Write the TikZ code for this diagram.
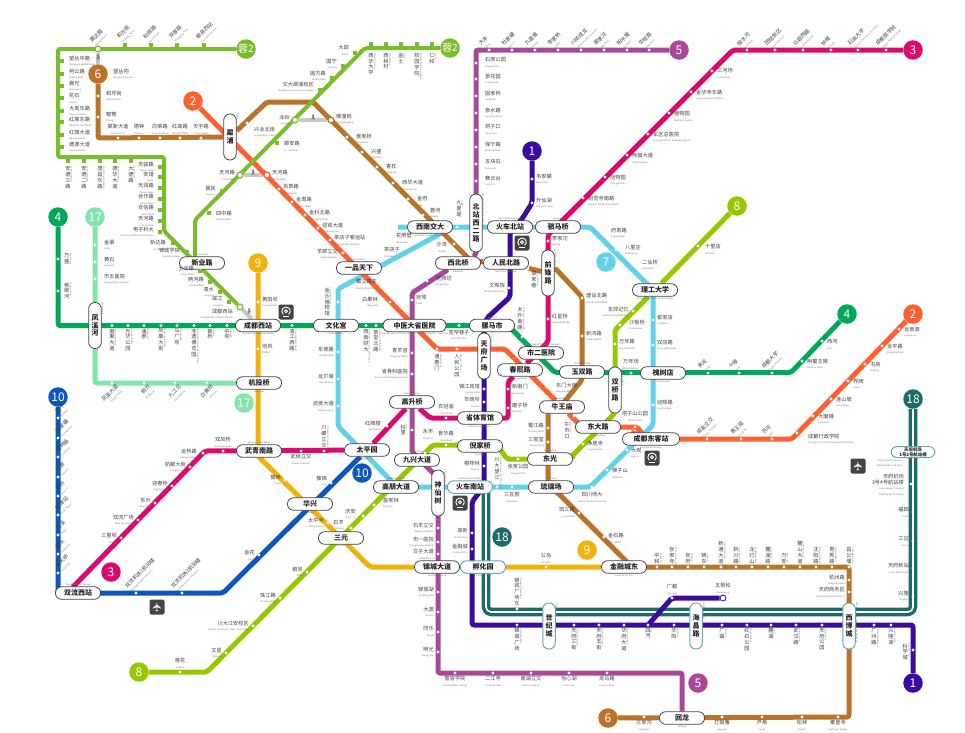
\documentclass[tikz,border=0pt]{standalone}
\usepackage{fontspec}
\setmainfont{Noto Sans CJK SC}
\newfontfamily\symfont{DejaVu Sans}
\newfontfamily\walkfont{Noto Emoji}
\usetikzlibrary{positioning}
\pgfdeclarelayer{lines}
\pgfsetlayers{lines,main}
\definecolor{cA}{HTML}{3B0A9E}
\definecolor{cB}{HTML}{FF6030}
\definecolor{cC}{HTML}{DC0A6E}
\definecolor{cD}{HTML}{00A85A}
\definecolor{cE}{HTML}{A94799}
\definecolor{cF}{HTML}{BA7328}
\definecolor{cG}{HTML}{62D2E8}
\definecolor{cH}{HTML}{96C800}
\definecolor{cI}{HTML}{F2B10B}
\definecolor{cJ}{HTML}{0D55BF}
\definecolor{cQ}{HTML}{82E6AC}
\definecolor{cR}{HTML}{1B6B6B}
\definecolor{cRong}{HTML}{78BD2B}
\definecolor{pillrim}{HTML}{444444}
\definecolor{tealrim}{HTML}{6BA8A8}
\definecolor{iconbg}{HTML}{444444}
\definecolor{engray}{HTML}{777777}
\definecolor{walkbar}{HTML}{C8C8C8}
\newcommand{\zhf}{\fontsize{5.2}{5.8}\selectfont}
\newcommand{\enf}{\fontsize{2.3}{2.9}\selectfont\color{engray}}
\newcommand{\pilf}{\fontsize{7}{8}\selectfont\bfseries}
\makeatletter
\newcommand{\vchars}[1]{\vbox{\baselineskip=1.12em\lineskiplimit=-1em\@tfor\vch:=#1\do{\hbox to 1em{\hss\vch\hss}}}}
\makeatother
\newcounter{stopno}
\newcommand{\lab}[4]{\node[tag,#2] (#1t) at (#1) {\zhf #3\\\enf #4};}
\newcommand{\lav}[4]{\node[vtag,#2] (#1t) at (#1) {\vchars{#3}};\node[entag] (#1e) at (#1t.north east) {#4};}
\newcommand{\sth}[5][stn]{\stepcounter{stopno}\node[#1] (s\arabic{stopno}) at (#2) {};\lab{s\arabic{stopno}}{#3}{#4}{#5}}
\newcommand{\stv}[5][stn]{\stepcounter{stopno}\node[#1] (s\arabic{stopno}) at (#2) {};\lav{s\arabic{stopno}}{#3}{#4}{#5}}
\newcommand{\pih}[6][pill]{\node[#1] (#2) at (#3) {#4};\node[ensub,#6=0.4pt of #2] (#2e) {#5};}
\newcommand{\piv}[5][pillv]{\node[#1] (#2) at (#3) {\vchars{#4}};\node[entag] (#2e) at (#2.north east) {#5};}
\tikzset{
  ln/.style={line width=5pt,rounded corners=2pt,line join=round},
  rong/.style={line width=4pt,rounded corners=2pt,line join=round,draw=cRong},
  walkway/.style={line width=4pt,draw=walkbar},
  stn/.style={circle,fill=white,inner sep=0pt,minimum size=3.4pt},
  tickstn/.style={rectangle,fill=cRong,inner sep=0pt,minimum size=3.6pt},
  ringstn/.style={circle,fill=white,draw=cRong,line width=1.2pt,inner sep=0pt,minimum size=6pt},
  tag/.style={inner sep=0pt,text=black!75,font=\zhf},
  vtag/.style={inner sep=0pt,text=black!75,font=\zhf},
  entag/.style={inner sep=0pt,rotate=-90,anchor=south west,yshift=-0.5pt,font=\enf},
  ensub/.style={inner sep=0pt,font=\enf},
  toR/.style={anchor=west,xshift=4pt,align=left},
  toL/.style={anchor=east,xshift=-4pt,align=right},
  toU/.style={anchor=south,yshift=3pt,align=center},
  toD/.style={anchor=north,yshift=-3pt,align=center},
  toSE/.style={anchor=west,xshift=5pt,yshift=-3pt,align=left},
  up45/.style={rotate=45,anchor=south west,align=left,yshift=2pt},
  dn45/.style={rotate=45,anchor=north east,align=right,yshift=-3pt},
  pill/.style={rectangle,rounded corners=6pt,draw=pillrim,line width=0.8pt,fill=white,inner sep=0pt,minimum width=45pt,minimum height=12.5pt,font=\pilf,text=black!85},
  pillT/.style={pill,draw=tealrim,line width=1pt},
  pillv/.style={rectangle,rounded corners=6pt,draw=pillrim,line width=0.8pt,fill=white,inner sep=0pt,minimum width=12.5pt,minimum height=46pt,font=\pilf,text=black!85},
  pillvT/.style={pillv,draw=tealrim,line width=1pt},
  badge/.style={circle,inner sep=0pt,minimum size=19.5pt,text=white,font=\fontsize{12}{12}\selectfont},
  iconbox/.style={rectangle,rounded corners=2pt,fill=iconbg,inner sep=0pt,minimum size=15pt,text=white},
  planebox/.style={iconbox,rotate=90,font=\symfont\fontsize{12}{12}\selectfont},
  walker/.style={inner sep=0pt,text=black!60,font=\walkfont\fontsize{5.5}{6}\selectfont},
  trainmark/.pic={
    \draw[white,line width=0.9pt] (0,-0.8) ++(130:4.2) arc[start angle=130,end angle=410,radius=4.2];
    \draw[white,line width=0.8pt] (0,-0.8) circle[radius=1.5];
    \draw[white,line width=0.8pt] (-2.8,4.6) -- (2.8,4.6);
  }
}
\begin{document}
\begin{tikzpicture}[x=1pt,y=-1pt]
  \useasboundingbox (0,0) rectangle (965,732);
  % badges
  \node[badge,fill=cA] (LAa) at (532,151) {1};
  \node[badge,fill=cA] (LAb) at (913,683) {1};
  \node[badge,fill=cB] (LBa) at (193,101) {2};
  \node[badge,fill=cB] (LBb) at (913,314) {2};
  \node[badge,fill=cC] (LCa) at (913,50) {3};
  \node[badge,fill=cC] (LCb) at (111,572) {3};
  \node[badge,fill=cD] (LDa) at (58,217) {4};
  \node[badge,fill=cD] (LDb) at (847,314) {4};
  \node[badge,fill=cE] (LEa) at (679,50) {5};
  \node[badge,fill=cE] (LEb) at (698,683) {5};
  \node[badge,fill=cF] (LFa) at (98,74) {6};
  \node[badge,fill=cF] (LFb) at (608,718) {6};
  \node[badge,fill=cG] (LGa) at (606,262) {7};
  \node[badge,fill=cH] (LHa) at (737,206) {8};
  \node[badge,fill=cH] (LHb) at (139,672) {8};
  \node[badge,fill=cI] (LIa) at (258,263) {9};
  \node[badge,fill=cI] (LIb) at (587,550) {9};
  \node[badge,fill=cJ] (LJa) at (58,397) {10};
  \node[badge,fill=cJ] (LJb) at (362,473) {10};
  \node[badge,fill=cQ] (LQa) at (95,217) {17};
  \node[badge,fill=cQ] (LQb) at (244,403) {17};
  \node[badge,fill=cR] (LRa) at (913,399) {18};
  \node[badge,fill=cR] (LRb) at (502,537) {18};
  \node[badge,fill=cRong,font=\fontsize{10}{10}\selectfont] (LSa) at (246,49) {蓉2};
  \node[badge,fill=cRong,font=\fontsize{10}{10}\selectfont] (LSb) at (450,48) {蓉2};
  % interchange stations
  \pih{XYL}{202,263}{新业路}{Xinye Road}{above}
  \pih{CDX}{258,325.5}{成都西站}{Chengdu West Railway Station}{below}
  \pih{WHG}{336,325.5}{文化宫}{Culture Palace}{below}
  \pih[pill,minimum width=63pt]{ZYY}{414.5,325.5}{中医大省医院}{Chengdu Univ. of TCM \& Sichuan Provincial People's Hospital}{below}
  \pih{LMS}{492,325.5}{骡马市}{Luomashi}{above}
  \pih{YPT}{359,268}{一品天下}{Yipintianxia}{above}
  \pih{XNJ}{430,227}{西南交大}{Southwest Jiaotong University}{below}
  \pih{HCB}{510,227}{火车北站}{North Railway Station}{above}
  \pih{SMQ}{558,227}{驷马桥}{Simaqiao}{above}
  \pih{XBQ}{458,263}{西北桥}{Xibeiqiao}{below}
  \pih{RMB}{506,263}{人民北路}{North Renmin Road}{below}
  \pih{SEY}{541,353}{市二医院}{Chengdu Second People's Hospital}{above}
  \pih{CXL}{520,370}{春熙路}{Chunxi Road}{below}
  \pih{YSL}{582,372}{玉双路}{Yushuang Road}{above}
  \pih{NWM}{562,407}{牛王庙}{Niuwangmiao}{above}
  \pih{DDL}{598,427}{东大路}{Dongda Road}{below}
  \pih{GSQ}{412,402}{高升桥}{Gaoshengqiao}{above}
  \pih{SSG}{480,418}{省体育馆}{Sichuan Gymnasium}{below}
  \pih{NJQ}{480,446}{倪家桥}{Nijiaqiao}{below}
  \pih{DGU}{550,459}{东光}{Dongguang}{above}
  \pih{JXD}{417,460}{九兴大道}{Jiuxing Avenue}{above}
  \pih{TPY}{367,450}{太平园}{Taipingyuan}{below}
  \pih{GPD}{396,487}{高朋大道}{Gaopeng Avenue}{above}
  \pih[pillT]{HCN}{470,487}{火车南站}{South Railway Station}{above}
  \pih{LLC}{551,487}{琉璃场}{Liulichang}{above}
  \pih[pillT]{FHY}{483,567}{孵化园}{Incubation Park}{below}
  \pih{JCD}{437,567}{锦城大道}{Jincheng Avenue}{below}
  \pih{JRC}{624,567}{金融城东}{Financial City East}{below}
  \pih{HLG}{682,718}{回龙}{Huilong}{below}
  \pih{JTQ}{259,383}{机投桥}{Jitouqiao}{below}
  \pih{WNN}{259,451}{武青南路}{Wuqing South Road}{above}
  \pih{HXG}{310,504}{华兴}{Huaxing}{below}
  \pih{SYN}{341,538}{三元}{Sanyuan}{below}
  \pih{SLX}{78,593}{双流西站}{Shuangliu West Station}{above}
  \pih{LGD}{655,290}{理工大学}{Chengdu University of Technology}{below}
  \pih{HSD}{663,373}{槐树店}{Huaishudian}{below}
  \pih[pill,minimum width=57pt]{CDK}{651,439}{成都东客站}{East Railway Station}{below}
  \piv{XPU}{230,137}{犀浦}{Xipu}
  \piv{FXH}{95,325.5}{凤溪河}{Fengxi River}
  \piv[pillv,minimum height=58pt]{BZX}{476,223}{北站西二路}{West 2nd North Station Road}
  \piv{QFL}{548,273}{前锋路}{Qianfeng Road}
  \piv{TFG}{484,356}{天府广场}{Tianfu Square}
  \piv{SQL}{615,390}{双桥路}{Shuangqiao Road}
  \piv{SXS}{438,493}{神仙树}{Shenxianshu}
  \piv[pillvT]{SJC}{549,626}{世纪城}{Century City}
  \piv[pillvT]{HCL}{696,626}{海昌路}{Haichang Road}
  \piv[pillvT]{XBC}{849,626}{西博城}{Western China International Expo City}
  \node[pillT,minimum width=44pt,minimum height=11pt,font=\fontsize{4.4}{5}\selectfont\bfseries,align=center] (TFJ) at (913,452) {天府机场\\1号2号航站楼};
  % transfer stops
  \node[ringstn] (RA) at (98,49) {};
  \lab{RA}{up45}{黄达路}{Huangda Road}
  \node[ringstn] (RB) at (295,120) {};
  \lab{RB}{toL,xshift=-1pt}{龙岭}{Longling}
  \node[ringstn,draw=cF] (RC) at (331,120) {};
  \lab{RC}{toR,xshift=1pt,yshift=1pt}{樟潼岗}{Zhangtonggang}
  \node[ringstn] (RD) at (240,175) {};
  \lab{RD}{toL,xshift=-1pt}{天河路}{Tianhe Road}
  \node[ringstn,draw=cB] (RE) at (267,175) {};
  \lab{RE}{toR,xshift=1pt}{天河路}{Tianhe Road}
  \node[ringstn] (RF) at (240,307) {};
  \lab{RF}{toL,yshift=-7pt,xshift=-3pt}{成都西站}{Chengdu West Railway Station}
  \node[walker] (WKa) at (313,118) {🚶};
  \node[walker] (WKb) at (253,173) {🚶};
  \node[walker] (WKc) at (249,312) {🚶};
  \node[walker] (WKd) at (98,58) {🚶};
  % rong line ticks
  \sth[tickstn]{125,45}{up45}{和光街}{Heguang Street}
  \sth[tickstn]{151,45}{up45}{和顺路}{Heshun Road}
  \sth[tickstn]{177,45}{up45}{双景路}{Shuangjing Road}
  \sth[tickstn]{204,45}{up45}{郫县西站}{Pixian West Station}
  \sth[tickstn]{62,61}{toR,xshift=3pt}{望丛中路}{Wangcong Middle Road}
  \sth[tickstn]{62,74}{toR,xshift=3pt}{柯公路}{Kegong Road}
  \sth[tickstn]{62,86}{toR,xshift=3pt}{晨光}{Chenguang}
  \sth[tickstn]{62,98}{toR,xshift=3pt}{花石}{Huashi}
  \sth[tickstn]{62,111}{toR,xshift=3pt}{大禹东路}{Dayu East Road}
  \sth[tickstn]{62,122}{toR,xshift=3pt}{红展东路}{Hongzhan East Road}
  \sth[tickstn]{62,135}{toR,xshift=3pt}{红旗大道}{Hongqi Avenue}
  \sth[tickstn]{62,147}{toR,xshift=3pt}{德源大道}{Deyuan Avenue}
  \stv[tickstn]{68,161}{toD,yshift=-2pt}{安德三路}{Ande 3rd Road}
  \stv[tickstn]{84,161}{toD,yshift=-2pt}{安德二路}{Ande 2nd Road}
  \stv[tickstn]{100,161}{toD,yshift=-2pt}{唐昌东路}{Tangchang East Road}
  \stv[tickstn]{115,161}{toD,yshift=-2pt}{德华大道}{Dehua Avenue}
  \stv[tickstn]{131,161}{toD,yshift=-2pt}{大德路}{Dade Road}
  \sth[tickstn]{160,167}{toL,xshift=-2pt}{天骏路}{Tianjun Road}
  \sth[tickstn]{160,177}{toL,xshift=-2pt}{安靖}{Anjing}
  \sth[tickstn]{160,188}{toL,xshift=-2pt}{天润路}{Tianrun Road}
  \sth[tickstn]{160,199}{toL,xshift=-2pt}{合作路}{Hezuo Road}
  \sth[tickstn]{160,210}{toL,xshift=-2pt}{合信路}{Hexin Road}
  \sth[tickstn]{160,221}{toL,xshift=-2pt}{天河路}{Tianhe Road}
  \sth[tickstn]{160,232}{toL,xshift=-2pt}{电子科大}{University of Electronic Science}
  \sth[tickstn]{173,243}{toL,xshift=-3pt,yshift=-2pt}{新达路}{Xinda Road}
  \sth[tickstn]{187,252}{toL,xshift=-3pt,yshift=-1pt}{锦城学院}{Jincheng College}
  \sth[tickstn]{200,271}{toL,xshift=-2pt}{土龙路}{Tulong Road}
  \sth[tickstn]{210,282}{toL,xshift=-2pt}{两河路}{Lianghe Road}
  \sth[tickstn]{220,292}{toL,xshift=-2pt}{清水}{Qingshui}
  \sth[tickstn]{229,302}{toL,xshift=-2pt}{联工}{Liangong}
  \stv[tickstn]{371,44}{toD,yshift=-6pt}{西华大学}{Xihua University}
  \stv[tickstn]{386,44}{toD,yshift=-6pt}{西林村}{Xilin Village}
  \stv[tickstn]{401,44}{toD,yshift=-6pt}{金土}{Jintu}
  \stv[tickstn]{417,44}{toD,yshift=-6pt}{校园学院}{General Aviation College}
  \stv[tickstn]{432,44}{toD,yshift=-6pt}{仁和}{Renhe}
  \sth[tickstn]{355,53}{toL,xshift=-2pt,yshift=3pt}{大田}{Datian}
  \sth[tickstn]{343,66}{toL,xshift=-2pt,yshift=2pt}{国宁}{Guoning}
  \sth[tickstn]{332,78}{toL,xshift=-2pt,yshift=2pt}{固方路}{Gufang Road}
  \sth[tickstn]{320,90}{toL,xshift=-2pt,yshift=3pt}{交大犀浦校区}{Jiaotong University Xipu Campus}
  \sth[tickstn]{277,143}{toR,xshift=3pt,yshift=-3pt}{犀安路}{Xi'an Road}
  \sth[tickstn]{222,191}{toL,xshift=-2pt}{晨民}{Chenmin}
  \sth[tickstn]{209,213}{toR,xshift=3pt,yshift=-3pt}{四中路}{Sizhong Road}
  % line 1
  \sth{532,179}{toR}{韦家碾}{Weijianian}
  \sth{532,203}{toR}{升仙湖}{Shengxian Lake}
  \sth{509,288}{toL}{文殊院}{Wenshu Monastery}
  \sth{484,389}{toL}{锦江宾馆}{Jinjiang Hotel}
  \sth{484,402}{toL}{华西坝}{Huaxiba}
  \sth{484,466}{toL}{桐梓林}{Tongzilin}
  \sth{472,533}{toL}{高新}{Hi-Tech Zone}
  \sth{472,549}{toL}{金融城}{Financial City}
  \stv{517,625}{toD}{锦城广场}{Jincheng Plaza}
  \stv{574,625}{toD}{天府三街}{Tianfu 3rd Street}
  \stv{599,625}{toD}{天府五街}{Tianfu 5th Street}
  \stv{624,625}{toD}{华府大道}{Huafu Avenue}
  \stv{648,625}{toD}{四河}{Sihe}
  \stv{674,625}{toD}{华阳}{Huayang}
  \stv{722,625}{toD}{广福}{Guangfu}
  \stv{747,625}{toD}{红石公园}{Hongshi Park}
  \stv{771,625}{toD}{麓湖}{Luhu}
  \stv{796,625}{toD}{武汉路}{Wuhan Road}
  \stv{822,625}{toD}{天府公园}{Tianfu Park}
  \stv{874,625}{toD}{广州路}{Guangzhou Road}
  \stv{891,625}{toD}{兴隆湖}{Xinglong Lake}
  \stv{913,650}{toL,xshift=-1pt,yshift=-2pt}{科学城}{Science City}
  \sth{672,598}{toU}{广都}{Guangdu}
  \node[circle,draw=cA,fill=white,line width=0.8pt,inner sep=0pt,minimum size=6pt] (WGS) at (723,598) {};
  \lab{WGS}{toU,yshift=1pt}{五根松}{Wugensong}
  % line 2
  \sth{279,189}{toR}{百草路}{Baicao Road}
  \sth{292,202}{toR}{金周路}{Jinzhou Road}
  \sth{305,215}{toR}{金科北路}{Jinke North Road}
  \sth{318,228}{toR}{迎宾大道}{Yingbin Avenue}
  \sth{330,240}{toR}{茶店子客运站}{Chadianzi Bus Terminal}
  \sth{343,253}{toL,xshift=-1pt,yshift=-1pt}{羊犀立交}{Yangxi Overpass}
  \sth{390,302}{toL,xshift=-8pt}{白果林}{Baiguolin}
  \stv{437,349}{toD,yshift=-2pt}{通惠门}{Tonghuimen}
  \stv{457,349}{toD,yshift=-2pt}{人民公园}{People's Park}
  \sth{547,387}{toR,xshift=5pt,yshift=-1pt}{东门大桥}{Dongmen Bridge}
  \stv{574,416}{toD,xshift=-7pt,yshift=-3pt}{牛市口}{Niushikou}
  \sth{635,427}{toU,yshift=2pt}{塔子山公园}{Tazishan Park}
  \sth{707,439}{up45,xshift=-3pt}{成渝立交}{Chengyu Overpass}
  \sth{741,439}{up45,xshift=-3pt}{惠王陵}{Huiwangling}
  \sth{772,439}{up45,xshift=-3pt}{洪河}{Honghe}
  \sth{797,433}{toSE,yshift=-3pt,xshift=6pt}{成都行政学院}{Chengdu Institute of Public Administration}
  \sth{813,416}{toSE}{大面铺}{Damianpu}
  \sth{831,399}{toSE}{连山坡}{Lianshanpo}
  \sth{848,381}{toSE}{界牌}{Jiepai}
  \sth{865,364}{toSE}{书房}{Shufang}
  \sth{882,346}{toSE}{龙平路}{Longping Road}
  \sth{899,329}{toSE}{龙泉驿}{Longquanyi}
  % line 3
  \sth{747,50}{up45,xshift=-3pt}{锦水河}{Jinshui River}
  \sth{775,50}{up45,xshift=-3pt}{团结新区}{Tuanjie New Area}
  \sth{803,50}{up45,xshift=-3pt}{马超西路}{Machao West Road}
  \sth{831,50}{up45,xshift=-3pt}{钟楼}{Bell Tower}
  \sth{858,50}{up45,xshift=-3pt}{石油大学}{Southwest Petroleum University}
  \sth{886,50}{up45,xshift=-3pt}{成都医学院}{Chengdu Medical College}
  \sth{712,71}{toSE}{三河场}{Sanhechang}
  \sth{691,92}{toSE}{金华寺东路}{Jinhua Temple East Road}
  \sth{669,113}{toSE}{植物园}{Botanical Garden}
  \sth{648,134}{toSE}{军区总医院}{Chengdu Military General Hospital}
  \sth{627,155}{toSE}{熊猫大道}{Panda Avenue}
  \sth{605,177}{toSE}{动物园}{Chengdu Zoo}
  \sth{583,198}{toSE}{昭觉寺南路}{Zhaojue Temple South Road}
  \sth{548,241}{toR}{李家沱}{Lijiatuo}
  \sth{548,319}{toR}{红星桥}{Hongxing Bridge}
  \sth{508,389}{toR}{新南门}{Xinnanmen}
  \sth{508,408}{toR}{磨子桥}{Moziqiao}
  \sth{446,418}{toU}{衣冠庙}{Yiguanmiao}
  \sth{387,426}{toL,xshift=-2pt}{红牌楼}{Hongpailou}
  \stv{324,451}{toU}{川藏立交}{Chuanzang Overpass}
  \sth{301,451}{toD}{武侯立交}{Wuhou Overpass}
  \sth{223,451}{toU}{双凤桥}{Shuangfengqiao}
  \sth{203,453}{toL,xshift=-2pt,yshift=-1pt}{龙桥路}{Longqiao Road}
  \sth{190,467}{toL}{航都大街}{Hangdu Street}
  \sth{172,486}{toL}{迎春桥}{Yingchunqiao}
  \sth{155,503}{toL}{东升}{Dongsheng}
  \sth{138,520}{toL}{双流广场}{Shuangliu Square}
  \sth{121,538}{toL}{三里坝}{Sanliba}
  % line 4
  \stv{58,259}{toR,xshift=2pt}{万盛}{Wansheng}
  \stv{58,291}{toR,xshift=2pt}{杨柳河}{Yangliu River}
  \stv{112,325.5}{toD}{南熏大道}{Nanxun Avenue}
  \stv{128,325.5}{toD}{光华公园}{Guanghua Park}
  \stv{144,325.5}{toD}{涌泉}{Yongquan}
  \stv{161,325.5}{toD}{凤凰大街}{Fenghuang Street}
  \stv{177,325.5}{toD}{马厂坝}{Machangba}
  \stv{194,325.5}{toD}{非遗博览园}{Intangible Cultural Heritage Park}
  \stv{210,325.5}{toD}{蔡桥}{Caiqiao}
  \stv{227,325.5}{toD}{中坝}{Zhongba}
  \stv{292,325.5}{toD}{清江西路}{Qingjiang West Road}
  \stv{366,325.5}{toD,yshift=-1pt}{西南财大}{Southwestern Univ. of Finance}
  \stv{376,325.5}{toD,yshift=-1pt}{草堂北路}{Caotang North Road}
  \sth{459,325.5}{toD,yshift=-1pt}{宽窄巷子}{Kuanzhai Alley}
  \stv{522,337}{toU,xshift=-2pt,yshift=4pt}{太升南路}{Taisheng South Road}
  \sth{631,373}{toU}{万年场}{Wannianchang}
  \sth{708,373}{up45,xshift=-3pt}{来龙}{Lailong}
  \sth{739,373}{up45,xshift=-3pt}{十陵}{Shiling}
  \sth{772,373}{up45,xshift=-3pt}{成都大学}{Chengdu University}
  \sth{802,361}{toSE}{明蜀王陵}{Mingshu Tomb}
  \sth{822,341}{toSE}{西河}{Xihe}
  % line 5
  \sth{489,50}{up45,xshift=-3pt}{大丰}{Dafeng}
  \sth{512,50}{up45,xshift=-3pt}{杜家碾}{Dujianian}
  \sth{535,50}{up45,xshift=-3pt}{九道堰}{Jiudaoyan}
  \sth{558,50}{up45,xshift=-3pt}{李家桥}{Lijiaqiao}
  \sth{581,50}{up45,xshift=-3pt}{川师成龙}{Sichuan Normal University}
  \sth{604,50}{up45,xshift=-3pt}{景家河}{Jingjia River}
  \sth{627,50}{up45,xshift=-3pt}{柏水堰}{Baishuiyan}
  \sth{649,50}{up45,xshift=-3pt}{华桂路}{Huagui Road}
  \sth{476,63}{toR,xshift=5pt}{石原公园}{Shiyuan Park}
  \sth{476,79}{toR,xshift=5pt}{景花园}{Jinghuayuan}
  \sth{476,96}{toR,xshift=5pt}{固家桥}{Gujiaqiao}
  \sth{476,113}{toR,xshift=5pt}{泉水路}{Quanshui Road}
  \sth{476,130}{toR,xshift=5pt}{洞子口}{Dongzikou}
  \sth{476,147}{toR,xshift=5pt}{保宁路}{Baoning Road}
  \sth{476,164}{toR,xshift=5pt}{五块石}{Wukuaishi}
  \sth{476,181}{toR,xshift=5pt}{赛云台}{Saiyuntai}
  \sth{427,281}{toR,xshift=5pt}{花牌坊}{Huapaifang}
  \sth{412,300}{toR}{抚琴}{Fuqin}
  \sth{412,353}{toL}{青羊宫}{Qingyang Palace}
  \sth{412,374}{toL}{省骨科医院}{Provincial Orthopedic Hospital}
  \stv{412,430}{toL,xshift=-2pt}{科里}{Keli}
  \sth{438,528}{toL}{石羊立交}{Shiyang Overpass}
  \sth{438,542}{toL}{市一医院}{Chengdu No.1 Hospital}
  \sth{438,554}{toL}{交子大道}{Jiaozi Avenue}
  \sth{438,592}{toL}{锦城湖}{Jincheng Lake}
  \sth{438,612}{toL}{大源}{Dayuan}
  \sth{438,632}{toL}{同乐}{Tongle}
  \sth{438,652}{toL}{明光}{Mingguang}
  \sth{455,673}{toD}{警官学院}{Sichuan Police College}
  \sth{493,673}{toD}{二江寺}{Erjiang Temple}
  \sth{531,673}{toD}{南湖立交}{Nanhu Overpass}
  \sth{569,673}{toD}{怡心湖}{Yixin Lake}
  \sth{607,673}{toD}{龙马路}{Longma Road}
  % line 6
  \lab{LFa}{toR,xshift=11pt}{望丛祠}{Wangcong Temple}
  \sth{98,96}{toR,xshift=4pt}{和坪街}{Heping Street}
  \sth{98,117}{toR,xshift=4pt}{郫筒}{Pitong}
  \sth{118,138}{toU}{犀新大道}{Xixin Avenue}
  \sth{139,138}{toU}{德钟}{Dezhong}
  \sth{160,138}{toU}{向荣路}{Xiangrong Road}
  \sth{180,138}{toU}{红高路}{Honggao Road}
  \sth{201,138}{toU}{天宇路}{Tianyu Road}
  \sth{247,123}{toSE,yshift=-6pt,xshift=2pt}{兴业北街}{Xingye North Street}
  \sth{347,137}{toR,xshift=5pt,yshift=-2pt}{侯家桥}{Houjiaqiao}
  \sth{362,152}{toR,xshift=5pt,yshift=-2pt}{兴盛}{Xingsheng}
  \sth{377,167}{toR,xshift=5pt,yshift=-2pt}{青杠}{Qinggang}
  \sth{393,183}{toR,xshift=5pt,yshift=-2pt}{西华大道}{Xihua Avenue}
  \sth{408,199}{toR,xshift=5pt,yshift=-2pt}{金府}{Jinfu}
  \sth{423,215}{toR,xshift=3pt,yshift=2pt}{蓉河}{Ronghe}
  \sth{454,244}{toL,xshift=-3pt,yshift=-3pt}{沙湾}{Shawan}
  \stv{533,263}{toD,yshift=-5pt,xshift=1pt}{梁家巷}{Liangjiaxiang}
  \sth{582,298}{toR}{建设北路}{Jianshe North Road}
  \sth{582,336}{toR}{新鸿路}{Xinhong Road}
  \sth{548,428}{toL}{蜀江路}{Shujiang Road}
  \sth{548,442}{toL}{三官堂}{Sanguantang}
  \sth{579,513}{toL,yshift=1pt}{琉三路}{Liusan Road}
  \sth{604,537}{toR,yshift=-1pt}{金石路}{Jinshi Road}
  \stv{657,567}{toU}{中和}{Zhonghe}
  \stv{672,567}{toU}{张家寺}{Zhangjia Temple}
  \stv{688,567}{toU}{张府}{Zhangfu}
  \stv{704,567}{toU}{锦东}{Jindong}
  \stv{721,567}{toU}{新通大道}{Xintong Avenue}
  \stv{736,567}{toU}{新川路}{Xinchuan Road}
  \stv{752,567}{toU}{龙灯山}{Longdengshan}
  \stv{768,567}{toU}{麓湖路}{Luhu Road}
  \stv{784,567}{toU}{万安}{Wan'an}
  \stv{800,567}{toU}{麓山大道}{Lushan Avenue}
  \stv{816,567}{toU}{沈阳路}{Shenyang Road}
  \stv{832,567}{toU}{青秀路}{Qingxiu Road}
  \stv{849,567}{toU}{昌公堰}{Changgongyan}
  \sth{849,580}{toL}{杭州路}{Hangzhou Road}
  \sth{849,592}{toL}{天府商务区}{Tianfu Commercial District}
  \sth{644,717}{toD}{兰家沟}{Lanjiagou}
  \sth{722,717}{toD}{打鼓雁}{Daguyan}
  \sth{762,717}{toD}{芦角}{Lujiao}
  \sth{802,717}{toD}{松林}{Songlin}
  \sth{838,717}{toD}{秦皇寺}{Qinhuang Temple}
  % line 7
  \sth{602,233}{toR,xshift=5pt}{府青路}{Fuqing Road}
  \sth{616,250}{toR,xshift=5pt}{八里庄}{Balizhuang}
  \sth{633,265}{toR,xshift=5pt}{二仙桥}{Erxianqiao}
  \sth{653,320}{toR}{崔家店}{Cuijiadian}
  \sth{653,345}{toR}{双店路}{Shuangdian Road}
  \sth{653,405}{toR}{迎晖路}{Yinghui Road}
  \sth{627,450}{toR,yshift=-3pt}{大观}{Daguan}
  \sth{607,470}{toSE}{狮子山}{Shizishan}
  \sth{592,487}{toD,yshift=-2pt}{四川师大}{Sichuan Normal University}
  \sth{512,487}{toD,yshift=-2pt}{三瓦窑}{Sanwayao}
  \stv{497,487}{toU,yshift=4pt}{川大望江}{Sichuan University Wangjiang}
  \sth{387,238}{toR,xshift=5pt}{花照壁}{Huazhaobi}
  \sth{375,252}{toR,xshift=5pt}{茶店子}{Chadianzi}
  \stv{457,227}{toU,xshift=2pt,yshift=7pt}{九里堤}{Jiuliti}
  \stv{338,302}{toL,xshift=-4pt}{金沙博物馆}{Jinsha Museum}
  \sth{346,280}{toR,xshift=6pt,yshift=-4pt}{蜀汉路东}{Shuhan Road East}
  \sth{338,352}{toL}{东坡路}{Dongpo Road}
  \sth{338,379}{toL}{龙爪堰}{Longzhaoyan}
  \sth{338,406}{toL}{武侯大道}{Wuhou Avenue}
  % line 8
  \sth{698,246}{toSE,xshift=2pt}{十里店}{Shilidian}
  \sth{633,311}{toL,yshift=-1pt}{东郊记忆}{Eastern Suburb Memory}
  \sth{620,325}{toR,xshift=5pt}{沙板桥}{Shabanqiao}
  \sth{615,344}{toR}{万年路}{Wannian Road}
  \sth{583,444}{toR,yshift=-2pt}{净居寺}{Jingju Temple}
  \sth{518,459}{toD,yshift=-2pt}{张家公园}{Zhangjia Park}
  \sth{446,445}{toU}{育华路}{Yuhua Road}
  \sth{425,453}{toU,yshift=10pt,xshift=3pt}{永丰}{Yongfeng}
  \sth{374,505}{toR,xshift=5pt,yshift=2pt}{盈家林}{Yingjialin}
  \sth{363,516}{toL,xshift=-3pt,yshift=2pt}{庆安}{Qing'an}
  \sth{351,528}{toL,xshift=-3pt,yshift=3pt}{石羊}{Shiyang}
  \sth{307,572}{toL}{鹅风}{Efeng}
  \sth{280,598}{toL}{珠江路}{Zhujiang Road}
  \sth{253,626}{toL}{川大江安校区}{Sichuan University Jiang'an Campus}
  \sth{226,653}{toL}{文星}{Wenxing}
  \sth{180,672}{toU}{落花}{Luohua}
  % line 9
  \sth{258,302}{toR}{黄田坝}{Huangtianba}
  \sth{258,349}{toR}{培风}{Peifeng}
  \sth{285,480}{toL}{簇桥}{Cuqiao}
  \sth{328,523}{toL}{太平寺}{Taiping Temple}
  \sth{546,567}{toU}{公岛}{Gongdao}
  % line 10
  \foreach \ly/\lz/\le in {418/新平/Xinping,438/双家碾/Shuangjianian,457/鹿林路/Lulin Road,477/花源/Huayuan,496/花桥/Huaqiao,515/新津站/Xinjin Station,535/花溪/Huaxi,554/黄水/Huangshui,573/白天桥/Baitianqiao}
    {\sth{58,\ly}{up45,xshift=3pt,yshift=-5pt}{\lz}{\le}}
  \sth{136,593}{up45,xshift=-3pt,yshift=1pt}{双流机场1航站楼}{Shuangliu Airport Terminal 1}
  \sth{182,593}{up45,xshift=-3pt,yshift=1pt}{双流机场2航站楼}{Shuangliu Airport Terminal 2}
  \sth{259,555}{toL}{金花}{Jinhua}
  \sth{331,483}{toL,yshift=2pt}{簇锦}{Cujin}
  % line 17
  \sth{95,245}{toR,xshift=5pt}{金渠}{Jinqu}
  \sth{95,262}{toR,xshift=5pt}{黄石}{Huangshi}
  \sth{95,279}{toR,xshift=5pt}{市五医院}{Chengdu No.5 Hospital}
  \sth{112,383}{dn45,xshift=2pt}{凤溪大道}{Fengxi Avenue}
  \sth{144,383}{dn45,xshift=2pt}{明光}{Mingguang}
  \sth{175,383}{dn45,xshift=2pt}{九江北}{Jiujiang North}
  \sth{207,383}{dn45,xshift=2pt}{白佛桥}{Baifoqiao}
  % line 18
  \sth{913,512}{toL}{福田}{Futian}
  \sth{913,541}{toL}{三岔}{Sancha}
  \sth{913,568}{toL}{天府新站}{Tianfu New Station}
  \sth{913,596}{toL}{兴隆}{Xinglong}
  \node[tag,anchor=north east,align=right] (TFJt) at (902,459) {\enf Tianfu Airport Terminal\\\enf Building No.1 and No.2};
  \sth{911,484}{toL,xshift=-3pt,yshift=-1pt}{天府机场\\\zhf 3号4号航站楼}{Tianfu Airport Terminal\\\enf Building No.3 and No.4}
  \stv{517,609}{toU}{锦城广场东}{Jincheng Plaza East}
  % icons
  \node[iconbox] (ICa) at (522,243) {};
  \pic at (ICa) {trainmark};
  \node[iconbox] (ICb) at (286,312) {};
  \pic at (ICb) {trainmark};
  \node[iconbox] (ICc) at (652,458) {};
  \pic at (ICc) {trainmark};
  \node[iconbox] (ICd) at (460,503) {};
  \pic at (ICd) {trainmark};
  \node[planebox] (PLa) at (157,607) {✈};
  \node[planebox] (PLb) at (858,466) {✈};
  % bends
  \coordinate (bAa) at (532,203);
  \coordinate (bAb) at (522,219);
  \coordinate (bAc) at (510,232);
  \coordinate (bAd) at (510,297);
  \coordinate (bAe) at (487,318);
  \coordinate (bAf) at (484,328);
  \coordinate (bAg) at (484,486);
  \coordinate (bAh) at (472,502);
  \coordinate (bAi) at (472,625);
  \coordinate (bAj) at (913,625);
  \coordinate (bAk) at (648,625);
  \coordinate (bAl) at (672,598);
  \coordinate (bBa) at (437,349);
  \coordinate (bBb) at (505,349);
  \coordinate (bBc) at (582,427);
  \coordinate (bBd) at (637,427);
  \coordinate (bBe) at (645,437);
  \coordinate (bBf) at (792,439);
  \coordinate (bCa) at (733,50);
  \coordinate (bCb) at (548,235);
  \coordinate (bCc) at (548,342);
  \coordinate (bCd) at (508,382);
  \coordinate (bCe) at (508,418);
  \coordinate (bCf) at (430,418);
  \coordinate (bCg) at (205,451);
  \coordinate (bCh) at (73,587);
  \coordinate (bDa) at (58,325.5);
  \coordinate (bDb) at (508,325.5);
  \coordinate (bDc) at (555,372.5);
  \coordinate (bDd) at (791,372.5);
  \coordinate (bEa) at (476,50);
  \coordinate (bEb) at (476,255);
  \coordinate (bEc) at (412,293);
  \coordinate (bEd) at (412,452);
  \coordinate (bEe) at (438,478);
  \coordinate (bEf) at (438,673);
  \coordinate (bEg) at (682,673);
  \coordinate (bFa) at (98,138);
  \coordinate (bFb) at (267,102);
  \coordinate (bFc) at (313,102);
  \coordinate (bFd) at (471,261);
  \coordinate (bFe) at (555,268);
  \coordinate (bFf) at (582,297);
  \coordinate (bFg) at (582,380);
  \coordinate (bFh) at (560,407);
  \coordinate (bFi) at (548,410);
  \coordinate (bFj) at (548,487);
  \coordinate (bFk) at (558,493);
  \coordinate (bFl) at (632,567);
  \coordinate (bFm) at (849,567);
  \coordinate (bFn) at (849,717);
  \coordinate (bGa) at (398,227);
  \coordinate (bGb) at (590,227);
  \coordinate (bGc) at (653,290);
  \coordinate (bGd) at (653,425);
  \coordinate (bGe) at (590,487);
  \coordinate (bGf) at (397,487);
  \coordinate (bGg) at (338,426);
  \coordinate (bGh) at (338,289);
  \coordinate (bHa) at (615,330);
  \coordinate (bHb) at (615,413);
  \coordinate (bHc) at (571,457);
  \coordinate (bHd) at (507,459);
  \coordinate (bHe) at (497,445);
  \coordinate (bHf) at (433,445);
  \coordinate (bHg) at (207,672);
  \coordinate (bIa) at (258,456);
  \coordinate (bIb) at (370,567);
  \coordinate (bJa) at (58,593);
  \coordinate (bJb) at (223,593);
  \coordinate (bQa) at (95,383);
  \coordinate (bRa) at (913,612);
  \coordinate (bRb) at (486,612);
  \coordinate (bRc) at (486,487);
  \coordinate (bSa) at (58,49);
  \coordinate (bSb) at (58,157);
  \coordinate (bSc) at (164,157);
  \coordinate (bSd) at (164,231);
  \coordinate (bSe) at (365,48);
  \coordinate (bSf) at (195,220);
  \coordinate (bSg) at (195,262);
  \begin{pgfonlayer}{lines}
    \draw[walkway] (RB) -- (RC);
    \draw[walkway] (RD) -- (RE);
    \draw[walkway] (RF) -- (CDX);
    \draw[walkway] (RA) -- (LFa);
    \draw[ln,cG] (bGa) -- (XNJ) -- (bGb) -- (bGc) -- (bGd) -- (bGe) -- (bGf) -- (bGg) -- (bGh) -- cycle;
    \draw[ln,cR,line width=3.5pt,double=white,double distance=1.6pt,rounded corners=5pt] (LRa) -- (bRa) -- (bRb) -- (bRc);
    \draw[ln,cQ] (LQa) -- (bQa) -- (JTQ);
    \draw[ln,cD] (LDa) -- (bDa) -- (bDb) -- (bDc) -- (bDd) -- (LDb);
    \draw[ln,cF] (LFa) -- (bFa) -- (XPU) -- (bFb) -- (bFc) -- (bFd) -- (RMB) -- (QFL) -- (bFe) -- (bFf) -- (bFg) -- (bFh) -- (bFi) -- (bFj) -- (bFk) -- (bFl) -- (bFm) -- (bFn) -- (LFb);
    \draw[ln,cE] (LEa) -- (bEa) -- (bEb) -- (XBQ) -- (bEc) -- (bEd) -- (bEe) -- (bEf) -- (bEg) -- (HLG);
    \draw[ln,cH] (LHa) -- (LGD) -- (bHa) -- (bHb) -- (bHc) -- (DGU) -- (bHd) -- (bHe) -- (bHf) -- (bHg) -- (LHb);
    \draw[ln,cI] (LIa) -- (bIa) -- (bIb) -- (JCD) -- (FHY) -- (JRC);
    \draw[ln,cJ] (LJa) -- (bJa) -- (bJb) -- (TPY);
    \draw[ln,cC] (LCa) -- (bCa) -- (bCb) -- (bCc) -- (CXL) -- (bCd) -- (bCe) -- (bCf) -- (GSQ) -- (TPY) -- (bCg) -- (bCh);
    \draw[ln,cB] (LBa) -- (bBa) -- (bBb) -- (NWM) -- (bBc) -- (bBd) -- (bBe) -- (CDK) -- (bBf) -- (LBb);
    \draw[ln,cA] (LAa) -- (bAa) -- (bAb) -- (bAc) -- (bAd) -- (bAe) -- (bAf) -- (bAg) -- (bAh) -- (bAi) -- (bAj) -- (LAb);
    \draw[ln,cA] (bAk) -- (bAl) -- (WGS);
    \draw[rong] (LSa) -- (bSa) -- (bSb) -- (bSc) -- (bSd) -- (RF);
    \draw[rong] (LSb) -- (bSe) -- (bSf) -- (bSg);
  \end{pgfonlayer}
\end{tikzpicture}
\end{document}
